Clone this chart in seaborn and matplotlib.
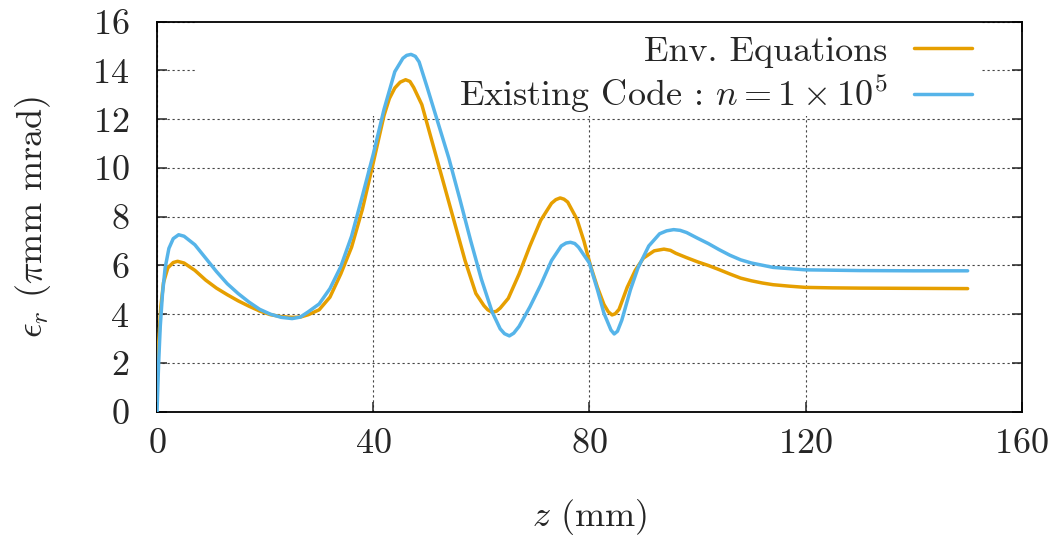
import numpy as np
import pandas as pd
import matplotlib
matplotlib.use('Agg')
import matplotlib.pyplot as plt
import seaborn as sns
from matplotlib.patches import Rectangle
from matplotlib.lines import Line2D

# ---------------------------------------------------------
# data
# ---------------------------------------------------------
z_env = [0, 0.3, 0.7, 1.2, 2.0, 3.0, 3.8,
         5, 7, 9, 11, 13, 15, 17, 19, 21, 23, 25,
         26.5, 28, 30, 32, 34, 36, 38, 40, 42, 43, 44, 45, 46, 46.8,
         47.5, 49, 51, 53, 55, 57, 59, 60.5, 61.2, 62, 62.8, 63.5, 65,
         67, 69, 71, 73, 73.8, 74.6, 75.3, 76, 77.7, 79, 80.2, 81.5, 82.7,
         83.5, 84.2, 84.8, 85.5, 87, 88.5, 90, 92, 93.8, 95, 96, 98, 100, 102,
         104, 106, 108, 110, 112, 114, 117, 120, 125, 130, 140, 150]
eps_env = [1.0, 2.8, 4.3, 5.3, 5.9, 6.12, 6.17,
           6.1, 5.8, 5.4, 5.07, 4.8, 4.55, 4.33, 4.13, 3.98, 3.9, 3.87,
           3.88, 3.98, 4.18, 4.7, 5.65, 6.75, 8.3, 10.2, 12.15, 12.85, 13.28, 13.52, 13.62, 13.55,
           13.3, 12.6, 11.0, 9.4, 7.8, 6.2, 4.85, 4.35, 4.18, 4.08, 4.12, 4.25, 4.65,
           5.65, 6.8, 7.85, 8.55, 8.7, 8.77, 8.72, 8.6, 7.9, 7.0, 6.0, 5.1, 4.4,
           4.1, 3.97, 4.02, 4.2, 5.1, 5.8, 6.3, 6.6, 6.67, 6.62, 6.5, 6.32, 6.15, 6.0,
           5.83, 5.65, 5.48, 5.37, 5.28, 5.21, 5.15, 5.1, 5.08, 5.07, 5.06, 5.05]

z_code = [0, 0.3, 0.6, 1.0, 1.5, 2.2, 3.0, 4.0,
          5, 7, 9, 11, 13, 15, 17, 19, 21, 23, 25,
          26.5, 28, 30, 32, 34, 36, 38, 40, 42, 44, 45.5, 46.2,
          47, 47.8, 48.5, 50, 52, 54, 56, 58, 60, 62, 63.5, 64.3, 65.2, 66,
          67, 69, 71, 73, 74.8, 75.7, 76.5, 77.3, 78, 80, 81.5, 82.7, 84,
          84.6, 85.2, 86, 87.6, 89, 91, 93, 94.3, 95.6, 96.8, 98, 100, 102, 104,
          106, 108, 110, 114, 120, 130, 140, 150]
eps_code = [0.0, 2.0, 3.5, 4.8, 5.9, 6.7, 7.1, 7.26,
            7.2, 6.85, 6.3, 5.75, 5.25, 4.85, 4.5, 4.2, 4.0, 3.87, 3.82,
            3.88, 4.1, 4.42, 5.05, 5.95, 7.2, 8.85, 10.55, 12.4, 13.95, 14.5, 14.62,
            14.66, 14.58, 14.35, 13.3, 11.85, 10.4, 8.75, 7.05, 5.45, 4.1, 3.4, 3.2, 3.11, 3.22,
            3.5, 4.3, 5.2, 6.2, 6.8, 6.92, 6.95, 6.9, 6.75, 6.1, 5.0, 4.04, 3.35,
            3.19, 3.3, 3.75, 5.0, 5.9, 6.8, 7.3, 7.42, 7.47, 7.44, 7.35, 7.12, 6.9, 6.65,
            6.42, 6.23, 6.1, 5.92, 5.82, 5.79, 5.78, 5.78]

label_env = 'Env. Equations'
label_code = r'Existing Code : $n = 1 \times 10^5$'
x_ticks = [0, 40, 80, 120, 160]
y_ticks = [0, 2, 4, 6, 8, 10, 12, 14, 16]

# ---------------------------------------------------------
# style
# ---------------------------------------------------------
sns.set_style('ticks')
plt.rcParams['font.family'] = ['cmr10', 'DejaVu Serif']
plt.rcParams['mathtext.fontset'] = 'cm'
plt.rcParams['axes.formatter.use_mathtext'] = True
FS = 26
C_ENV, C_CODE = '#E69F00', '#56B4E9'

df = pd.concat([
    pd.DataFrame({'z': z_env, 'eps': eps_env, 'series': label_env}),
    pd.DataFrame({'z': z_code, 'eps': eps_code, 'series': label_code}),
])

fig = plt.figure(figsize=(10.51, 5.39), dpi=100)
ax = fig.add_axes([0.1494, 0.2362, 0.8227, 0.7235])

sns.lineplot(data=df, x='z', y='eps', hue='series', ax=ax,
             palette={label_env: C_ENV, label_code: C_CODE},
             linewidth=2.5, legend=False, zorder=3)

# white key box (hides the grid behind the key, as in the original)
ax.add_patch(Rectangle((0.044, 0.757), 0.9075, 0.243, transform=ax.transAxes,
                       facecolor='white', edgecolor='none', zorder=1))

ax.set_xlim(0, 160)
ax.set_ylim(0, 16)
ax.set_xticks(x_ticks)
ax.set_yticks(y_ticks)
ax.grid(True, color='#444444', linestyle=(0, (2, 2.5)), linewidth=0.8)
ax.set_axisbelow(True)
ax.tick_params(direction='in', length=7, width=1.1, top=True, right=True,
               labelsize=FS)
ax.tick_params(axis='x', pad=12)
ax.tick_params(axis='y', pad=20)
for sp in ax.spines.values():
    sp.set_linewidth(1.3)
    sp.set_color('black')

ax.set_xlabel(r'$z$ (mm)', fontsize=FS, labelpad=27)
ax.set_ylabel(r'$\epsilon_r$ ($\pi$mm mrad)', fontsize=FS, labelpad=28)

handles = [Line2D([], [], color=C_ENV, lw=2.5),
           Line2D([], [], color=C_CODE, lw=2.5)]
leg = ax.legend(handles, [label_env, label_code], loc='upper right',
                bbox_to_anchor=(0.9425, 0.965), frameon=False, fontsize=FS,
                markerfirst=False, handlelength=1.6, handletextpad=0.75,
                labelspacing=0.15, borderpad=0, borderaxespad=0)
leg.set_zorder(5)

fig.savefig('out.png', dpi=100)
